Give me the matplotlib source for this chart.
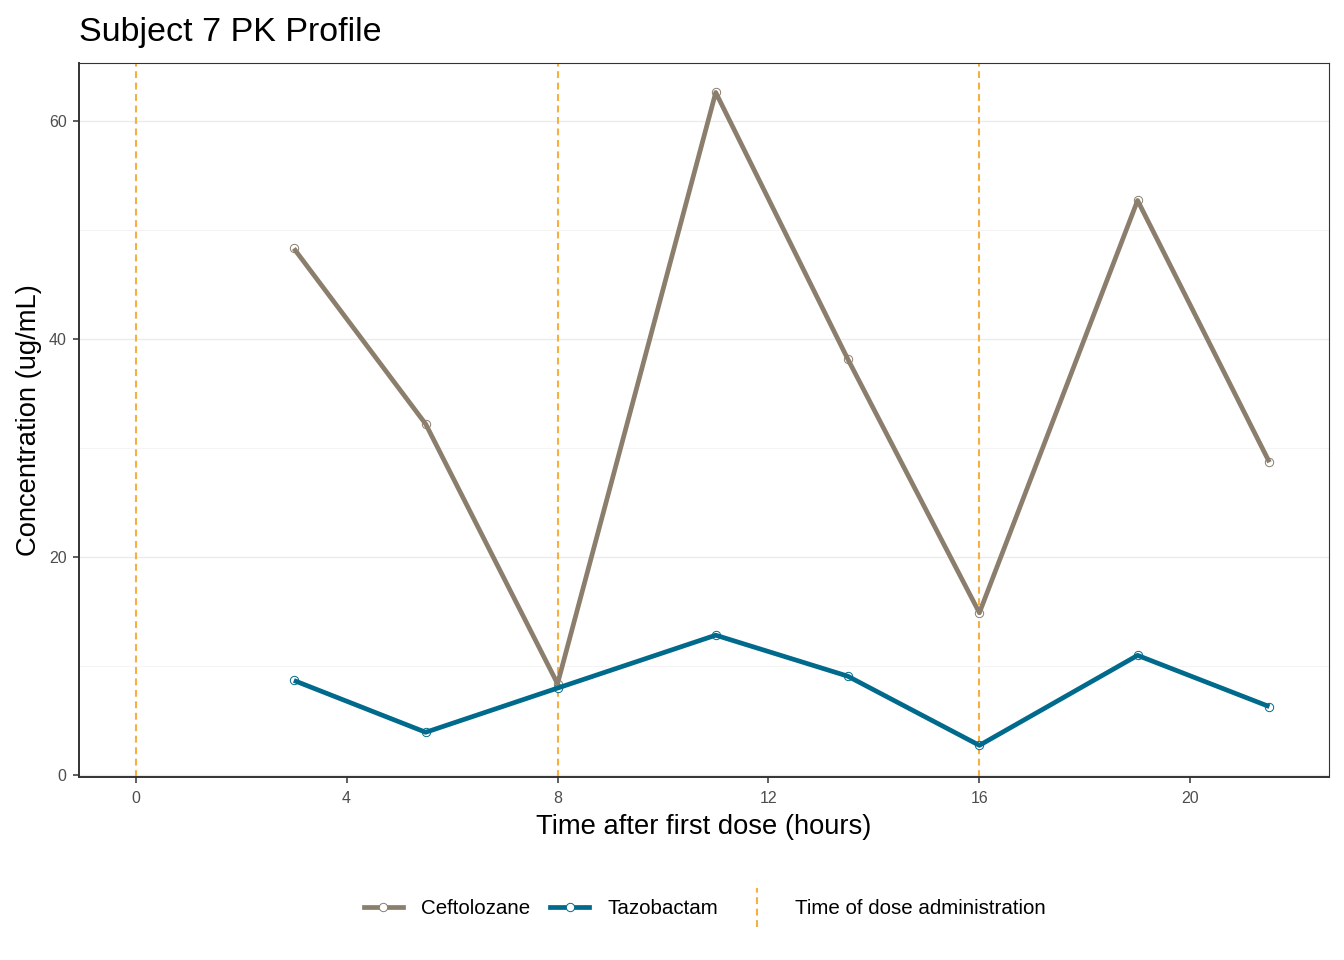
import matplotlib
matplotlib.use("Agg")
import matplotlib.pyplot as plt
from matplotlib.lines import Line2D
from matplotlib.legend_handler import HandlerLine2D

plt.rcParams['font.family'] = ['Liberation Sans', 'DejaVu Sans']

time_h = [3.0, 5.5, 8.0, 11.0, 13.5, 16.0, 19.0, 21.5]
ceftolozane = [48.3, 32.2, 8.4, 62.6, 38.2, 14.9, 52.7, 28.7]
tazobactam = [8.7, 3.95, 8.0, 12.85, 9.1, 2.75, 11.0, 6.3]
dose_times = [0, 8, 16]
x_ticks = [0, 4, 8, 12, 16, 20]
y_ticks = [0, 20, 40, 60]
y_minor = [10, 30, 50]

c_cef = '#8B7E6D'
c_taz = '#006A8C'
c_dose = '#F5B042'

fig = plt.figure(figsize=(13.44, 9.6), dpi=100)
ax = fig.add_axes([79/1344, 1 - 777/960, (1329-79)/1344, (777-63)/960])

for y in y_ticks:
    ax.axhline(y, color='#EBEBEB', lw=1.0, zorder=0)
for y in y_minor:
    ax.axhline(y, color='#F2F2F2', lw=0.6, zorder=0)

for t in dose_times:
    ax.axvline(t, color=c_dose, lw=1.5, ls=(0, (3.3, 2.2)), zorder=1)

for vals, col in [(ceftolozane, c_cef), (tazobactam, c_taz)]:
    ax.plot(time_h, vals, ls='none', marker='o', ms=6, mfc='white', mec=col, mew=0.7, zorder=2)
    ax.plot(time_h, vals, color=col, lw=3.4, zorder=3, solid_capstyle='butt')

ax.set_xlim(-1.075, 22.63)
ax.set_ylim(-0.15, 65.3)
ax.set_xticks(x_ticks)
ax.set_yticks(y_ticks)
ax.tick_params(axis='both', labelsize=11.5, colors='#333333', labelcolor='#4D4D4D', length=4, width=1.1)
ax.tick_params(axis='x', pad=6)
ax.tick_params(axis='y', pad=5)
for s in ['top', 'right']:
    ax.spines[s].set_color('#333333')
    ax.spines[s].set_linewidth(0.8)
for s in ['left', 'bottom']:
    ax.spines[s].set_color('#333333')
    ax.spines[s].set_linewidth(1.4)

ax.set_xlabel('Time after first dose (hours)', fontsize=19.7, labelpad=6)
ax.set_ylabel('Concentration (ug/mL)', fontsize=19.7, labelpad=5)
ax.set_title('Subject 7 PK Profile', fontsize=24.5, loc='left', x=0.0, pad=16)


class HandlerVLine(HandlerLine2D):
    def create_artists(self, legend, orig_handle, xdescent, ydescent, width, height, fontsize, trans):
        x = width / 2 - xdescent
        line = Line2D([x, x], [-ydescent - 0.85 * height, height * 1.85 - ydescent])
        self.update_prop(line, orig_handle, legend)
        line.set_transform(trans)
        return [line]


h_cef = Line2D([], [], color=c_cef, lw=3.4, marker='o', ms=6, mfc='white', mec=c_cef, mew=0.7)
h_taz = Line2D([], [], color=c_taz, lw=3.4, marker='o', ms=6, mfc='white', mec=c_taz, mew=0.7)
h_dose = Line2D([], [], color=c_dose, lw=1.5, ls=(0, (3.3, 2.2)))

leg = fig.legend([h_cef, h_taz, h_dose], ['Ceftolozane', 'Tazobactam', 'Time of dose administration'],
                 loc='center', bbox_to_anchor=(705/1344, 1 - 909/960), ncol=3, frameon=False,
                 fontsize=14.8, handlelength=1.9, handletextpad=0.9, columnspacing=0.95,
                 handler_map={h_dose: HandlerVLine()})

fig.savefig('out.png', dpi=100)
